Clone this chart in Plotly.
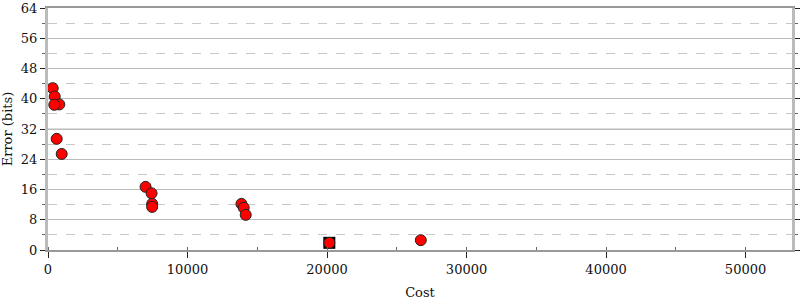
import plotly.graph_objects as go

cost = [336, 480, 809, 451, 623, 981, 6994, 7423, 7466, 7466, 13866, 14030, 14173, 20165, 26722]
error_bits = [42.8, 40.6, 38.5, 38.4, 29.4, 25.4, 16.7, 15.0, 12.2, 11.4, 12.2, 11.2, 9.3, 1.9, 2.6]
best_cost = [20165]
best_error = [1.9]

y_ticks = [0, 8, 16, 24, 32, 40, 48, 56, 64]
x_ticks = [0, 10000, 20000, 30000, 40000, 50000]

font_family = "DejaVu Serif"

fig = go.Figure()
fig.add_trace(go.Scatter(
    x=best_cost, y=best_error, mode="markers",
    marker=dict(symbol="square", size=12, color="black", line=dict(width=0)),
    hoverinfo="skip", showlegend=False))
fig.add_trace(go.Scatter(
    x=cost, y=error_bits, mode="markers",
    marker=dict(symbol="circle", size=11, color="#ff0000", line=dict(color="#222", width=1)),
    showlegend=False))

fig.add_shape(type="line", xref="paper", x0=0, x1=1, yref="y", y0=32, y1=32,
              line=dict(color="#dddddd", width=2), layer="between")

fig.update_layout(
    width=800, height=300,
    margin=dict(l=48, r=8, t=8, b=50),
    plot_bgcolor="white", paper_bgcolor="white",
    font=dict(family=font_family, size=13, color="#111"),
    xaxis=dict(
        range=[0, 53330], tickvals=x_ticks, ticktext=[str(v) for v in x_ticks],
        showgrid=False, zeroline=False, automargin=False,
        showline=True, linecolor="#999", linewidth=2, mirror=True,
        ticks="outside", ticklen=6, tickcolor="#222", tickwidth=1,
        ticklabelstandoff=0,
        minor=dict(dtick=5000, tick0=0, ticks="inside", ticklen=3, tickcolor="#666", showgrid=False),
        title=dict(text="Cost", font=dict(size=13), standoff=20),
        tickfont=dict(size=13),
    ),
    yaxis=dict(
        range=[0, 64], tickvals=y_ticks, ticktext=[str(v) for v in y_ticks],
        showgrid=True, gridcolor="#bbbbbb", gridwidth=1, zeroline=False, automargin=False,
        showline=True, linecolor="#bbbbbb", linewidth=3, mirror="ticks",
        ticks="outside", ticklen=5, tickcolor="#222", tickwidth=1,
        minor=dict(dtick=4, tick0=0, ticks="outside", ticklen=3, tickcolor="#666",
                   showgrid=True, gridcolor="#c8c8c8", griddash="dash", gridwidth=1),
        title=dict(text="Error (bits)", font=dict(size=13), standoff=6),
        tickfont=dict(size=13),
    ),
)

fig.write_html("out.html")
